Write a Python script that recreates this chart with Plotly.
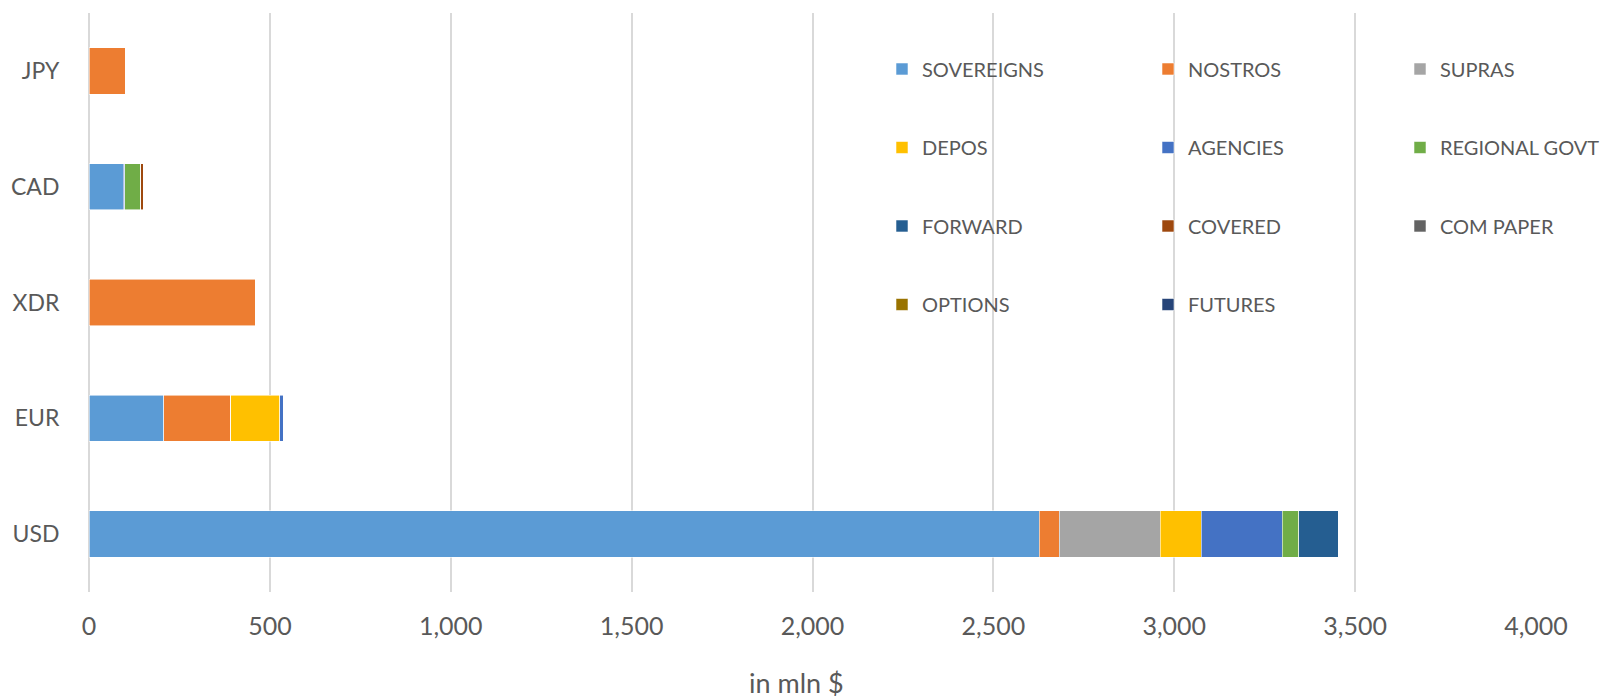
import plotly.graph_objects as go

currencies = ["USD", "EUR", "XDR", "CAD", "JPY"]

sovereigns = [2627, 207, 0, 95, 0]
nostros = [55, 185, 459, 0, 100]
supras = [279, 0, 0, 0, 0]
depos = [114, 135, 0, 0, 0]
agencies = [223, 11, 0, 4, 0]
regional_govt = [46, 0, 0, 44, 0]
forward = [111, 0, 0, 0, 0]
covered = [0, 0, 0, 7, 0]
com_paper = [0, 0, 0, 0, 0]
options = [0, 0, 0, 0, 0]
futures = [0, 0, 0, 0, 0]

series = [
    ("SOVEREIGNS", sovereigns, "#5B9BD5", "legend"),
    ("NOSTROS", nostros, "#ED7D31", "legend2"),
    ("SUPRAS", supras, "#A5A5A5", "legend3"),
    ("DEPOS", depos, "#FFC000", "legend"),
    ("AGENCIES", agencies, "#4472C4", "legend2"),
    ("REGIONAL GOVT", regional_govt, "#70AD47", "legend3"),
    ("FORWARD", forward, "#255E91", "legend"),
    ("COVERED", covered, "#9E480E", "legend2"),
    ("COM PAPER", com_paper, "#636363", "legend3"),
    ("OPTIONS", options, "#997300", "legend"),
    ("FUTURES", futures, "#264478", "legend2"),
]

fig = go.Figure()
for i, (name, vals, color, lg) in enumerate(series):
    fig.add_trace(go.Bar(
        x=vals, y=currencies, orientation="h", name=name,
        marker=dict(color=color, line=dict(color="rgba(255,255,255,0.7)", width=0.8)),
        legend=lg, legendgroup=name,
    ))

FONT = "Lato, Carlito, Calibri, sans-serif"
GREY = "#595959"

W, H = 1600, 698
ml, mr, mt, mb = 89, 64, 13, 106
pw = W - ml - mr
ph = H - mt - mb

def leg(left_px):
    return dict(
        x=(left_px - ml) / pw, y=0.937, xanchor="left", yanchor="top",
        orientation="v", bgcolor="rgba(0,0,0,0)",
        font=dict(family=FONT, size=20, color=GREY),
        tracegroupgap=49.5, itemwidth=30, traceorder="grouped",
    )

fig.update_layout(
    width=W, height=H,
    margin=dict(l=ml, r=mr, t=mt, b=mb, autoexpand=False),
    barmode="stack", bargap=0.6,
    plot_bgcolor="white", paper_bgcolor="white",
    font=dict(family=FONT, color=GREY),
    showlegend=True,
    legend=leg(882),
    legend2=leg(1148),
    legend3=leg(1400),
    xaxis=dict(
        range=[0, 4000], dtick=500, tickformat=",d", automargin=False,
        showgrid=True, gridcolor="#D9D9D9", gridwidth=1.5,
        zeroline=True, zerolinecolor="#D9D9D9", zerolinewidth=1.5,
        showline=False, ticks="outside", ticklen=12, tickcolor="rgba(0,0,0,0)",
        tickfont=dict(family=FONT, size=25, color=GREY),
    ),
    yaxis=dict(
        categoryorder="array", categoryarray=currencies, automargin=False,
        showgrid=False, showline=False,
        ticks="outside", ticklen=24, tickcolor="rgba(0,0,0,0)",
        tickfont=dict(family=FONT, size=23, color=GREY),
    ),
    annotations=[dict(
        text="in mln $", xref="paper", yref="paper",
        x=(796 - ml) / pw, y=-(682 - (H - mb)) / ph,
        xanchor="center", yanchor="middle", showarrow=False,
        font=dict(family=FONT, size=27, color=GREY),
    )],
)

fig.write_html("out.html")
